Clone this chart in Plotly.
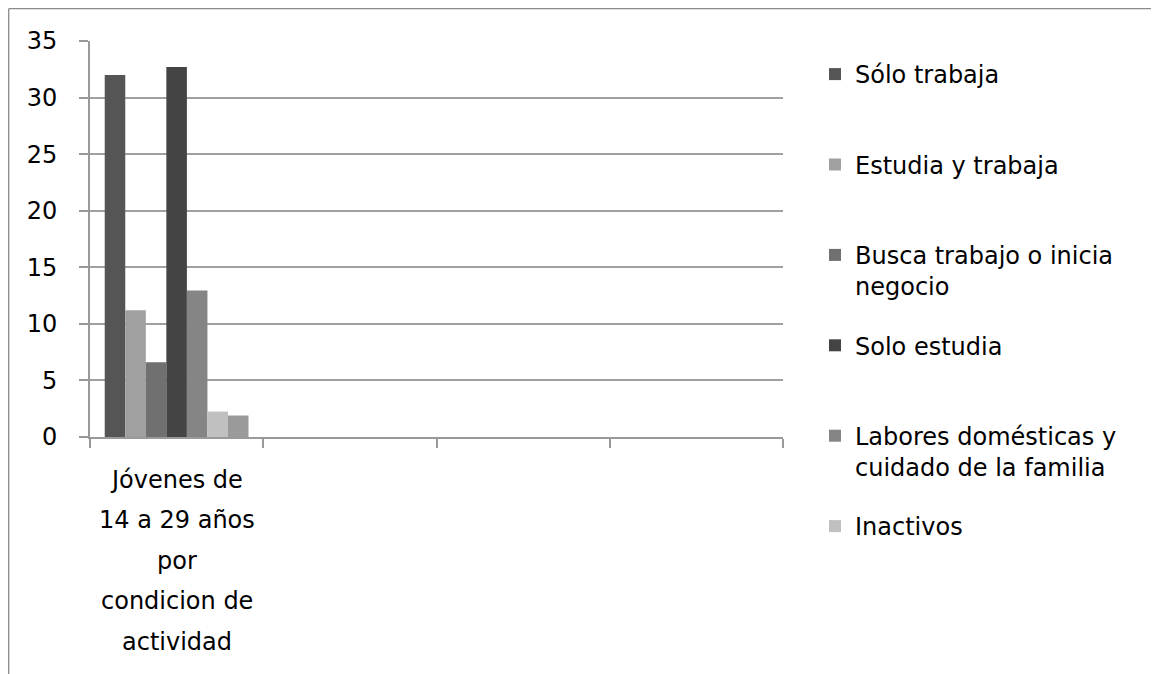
import plotly.graph_objects as go

# ---- data ----
categories = [0, 1, 2, 3]
category_label_lines = ["Jóvenes de", "14 a 29 años", "por", "condicion de", "actividad"]
series_names = [
    "Sólo trabaja",
    "Estudia y trabaja",
    "Busca trabajo o inicia<br>negocio",
    "Solo estudia",
    "Labores domésticas y<br>cuidado de la familia",
    "Inactivos",
    "Otros",
]
series_values = [
    [32.0, None, None, None],
    [11.2, None, None, None],
    [6.6, None, None, None],
    [32.7, None, None, None],
    [12.95, None, None, None],
    [2.25, None, None, None],
    [1.9, None, None, None],
]
series_colors = ["#555555", "#a0a0a0", "#707070", "#444444", "#858585", "#c0c0c0", "#9a9a9a"]
series_in_legend = [True, True, True, True, True, True, False]
y_ticks = [0, 5, 10, 15, 20, 25, 30, 35]

# page has an 8px body margin, so the figure is laid out in (screen - 8) coordinates
W, H = 1151, 666
L, R, T, B = 82, 775, 33, 429

fig = go.Figure()
for name, vals, col, show in zip(series_names, series_values, series_colors, series_in_legend):
    label = name if "<br>" in name else name + "<br> "
    fig.add_trace(go.Bar(
        x=categories, y=vals, name=label, marker=dict(color=col, line=dict(width=0)),
        showlegend=show, legendgroup=name,
    ))

font_main = "DejaVu Sans"
fig.update_layout(
    width=W, height=H,
    margin=dict(l=L, r=W - R, t=T, b=H - B, pad=0),
    paper_bgcolor="white", plot_bgcolor="white",
    barmode="group", bargap=0.17, bargroupgap=0,
    font=dict(family=font_main, size=24, color="black"),
    legend=dict(
        xref="container", x=807 / W, xanchor="left",
        yref="container", y=1 - 44 / H, yanchor="top",
        maxheight=640,
        font=dict(size=24, family=font_main),
        traceorder="grouped", tracegroupgap=25, valign="top",
        bgcolor="rgba(0,0,0,0)",
    ),
    xaxis=dict(
        range=[-0.5, 3.5], tickvals=[], showticklabels=False, showgrid=False, zeroline=False,
        showline=True, linecolor="#999999", linewidth=1.8,
        minor=dict(ticks="outside", tick0=-0.5, dtick=1, ticklen=9, tickcolor="#999999",
                   tickwidth=1.8, showgrid=False),
    ),
    yaxis=dict(
        range=[0, 35], tickvals=y_ticks, ticks="outside", ticklen=9, tickcolor="#999999", tickwidth=1.8,
        showgrid=True, gridcolor="#a0a0a0", gridwidth=1.8, zeroline=False,
        showline=True, linecolor="#999999", linewidth=1.8,
        tickfont=dict(size=24, family=font_main), ticklabelstandoff=17,
    ),
)

# category label lines (Excel-like wide line spacing)
first_line_y = 471.5
line_step = 40.5
for i, line in enumerate(category_label_lines):
    yc = first_line_y + i * line_step
    fig.add_annotation(
        x=categories[0], xref="x", y=(B - yc) / (B - T), yref="paper",
        text=line, showarrow=False, xanchor="center", yanchor="middle",
        font=dict(family=font_main, size=24, color="black"),
    )

# outer chart frame (left and top edges visible)
px = lambda v: (v - L) / (R - L)
py = lambda v: (B - v) / (B - T)
fig.add_shape(type="line", xref="paper", yref="paper", x0=px(0.7), x1=px(0.7), y0=py(0.7), y1=py(H + 5),
              line=dict(color="#8a8a8a", width=1.3))
fig.add_shape(type="line", xref="paper", yref="paper", x0=px(0.7), x1=px(W + 5), y0=py(0.7), y1=py(0.7),
              line=dict(color="#8a8a8a", width=1.3))

fig.write_html("out.html")
